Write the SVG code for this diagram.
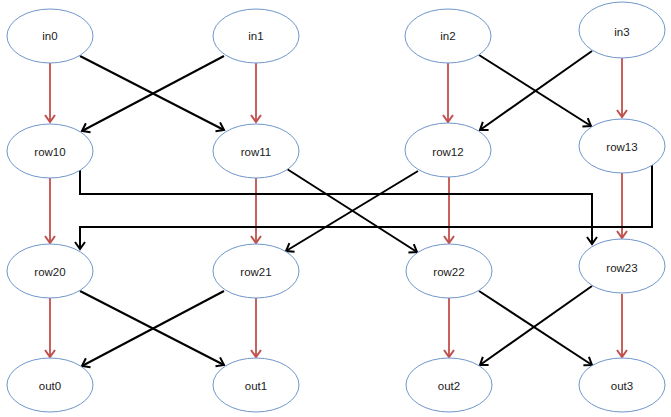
<svg xmlns="http://www.w3.org/2000/svg" width="671" height="417" viewBox="0 0 671 417">
<defs>
<marker id="ab" markerUnits="userSpaceOnUse" markerWidth="12" markerHeight="14" refX="9" refY="6" orient="auto" viewBox="0 0 12 12">
<path d="M2,1 L9,6 L2,11" fill="none" stroke="#000" stroke-width="2"/>
</marker>
<marker id="ar" markerUnits="userSpaceOnUse" markerWidth="12" markerHeight="14" refX="9" refY="6" orient="auto" viewBox="0 0 12 12">
<path d="M2,1 L9,6 L2,11" fill="none" stroke="#c0504d" stroke-width="2"/>
</marker>
<style>
.n ellipse{fill:#fff;stroke:#6f97cb;stroke-width:1}
.n text{font-family:"Liberation Sans",Arial,sans-serif;font-size:11.5px;fill:#1a1a1a;text-anchor:middle}
.r{stroke:#c9605b;stroke-width:2;fill:none;marker-end:url(#ar)}
.b{stroke:#000;stroke-width:2;fill:none;marker-end:url(#ab)}
</style>
</defs>
<g id="connectors">
<line class="r" x1="50" y1="63" x2="50" y2="122"/>
<line class="r" x1="256" y1="63" x2="256" y2="122"/>
<line class="r" x1="448" y1="63" x2="448" y2="122"/>
<line class="r" x1="622" y1="58" x2="622" y2="117"/>
<line class="r" x1="50" y1="178" x2="50" y2="243"/>
<line class="r" x1="256" y1="178" x2="256" y2="243"/>
<line class="r" x1="449" y1="177" x2="449" y2="243"/>
<line class="r" x1="622" y1="173" x2="622" y2="238"/>
<line class="r" x1="50" y1="298" x2="50" y2="357"/>
<line class="r" x1="256" y1="298" x2="256" y2="357"/>
<line class="r" x1="449" y1="298" x2="449" y2="357"/>
<line class="r" x1="622" y1="294" x2="622" y2="357"/>
<line class="b" x1="80" y1="56" x2="224" y2="130"/>
<line class="b" x1="224" y1="56" x2="82" y2="131"/>
<line class="b" x1="479" y1="55" x2="591" y2="126"/>
<line class="b" x1="592" y1="51" x2="480" y2="130"/>
<polyline class="b" points="80,170 80,194 592,194 592,244"/>
<polyline class="b" points="652,164 652,227 80,227 80,249"/>
<line class="b" x1="287" y1="169" x2="417" y2="252"/>
<line class="b" x1="418" y1="171" x2="286" y2="251"/>
<line class="b" x1="80" y1="291" x2="224" y2="365"/>
<line class="b" x1="224" y1="291" x2="82" y2="366"/>
<line class="b" x1="479" y1="291" x2="592" y2="365"/>
<line class="b" x1="592" y1="286" x2="480" y2="365"/>
</g>
<g id="in0" class="n"><ellipse cx="50" cy="36" rx="43" ry="27"/><text x="50" y="40">in0</text></g>
<g id="in1" class="n"><ellipse cx="256" cy="36" rx="43" ry="27"/><text x="256" y="40">in1</text></g>
<g id="in2" class="n"><ellipse cx="448" cy="36" rx="43" ry="27"/><text x="448" y="40">in2</text></g>
<g id="in3" class="n"><ellipse cx="622" cy="30" rx="43" ry="28"/><text x="622" y="36">in3</text></g>
<g id="row10" class="n"><ellipse cx="50" cy="151" rx="43" ry="27"/><text x="50" y="156">row10</text></g>
<g id="row11" class="n"><ellipse cx="256" cy="151" rx="43" ry="27"/><text x="256" y="156">row11</text></g>
<g id="row12" class="n"><ellipse cx="448" cy="150" rx="43" ry="27"/><text x="448" y="156">row12</text></g>
<g id="row13" class="n"><ellipse cx="622" cy="146" rx="43" ry="27"/><text x="622" y="151">row13</text></g>
<g id="row20" class="n"><ellipse cx="50" cy="271" rx="43" ry="27"/><text x="50" y="276">row20</text></g>
<g id="row21" class="n"><ellipse cx="256" cy="271" rx="43" ry="27"/><text x="256" y="276">row21</text></g>
<g id="row22" class="n"><ellipse cx="449" cy="271" rx="43" ry="27"/><text x="449" y="276">row22</text></g>
<g id="row23" class="n"><ellipse cx="622" cy="266" rx="43" ry="27"/><text x="622" y="272">row23</text></g>
<g id="out0" class="n"><ellipse cx="50" cy="385" rx="43" ry="27"/><text x="50" y="390">out0</text></g>
<g id="out1" class="n"><ellipse cx="256" cy="385" rx="43" ry="27"/><text x="256" y="390">out1</text></g>
<g id="out2" class="n"><ellipse cx="449" cy="385" rx="43" ry="27"/><text x="449" y="390">out2</text></g>
<g id="out3" class="n"><ellipse cx="622" cy="385" rx="43" ry="27"/><text x="622" y="390">out3</text></g>
</svg>
